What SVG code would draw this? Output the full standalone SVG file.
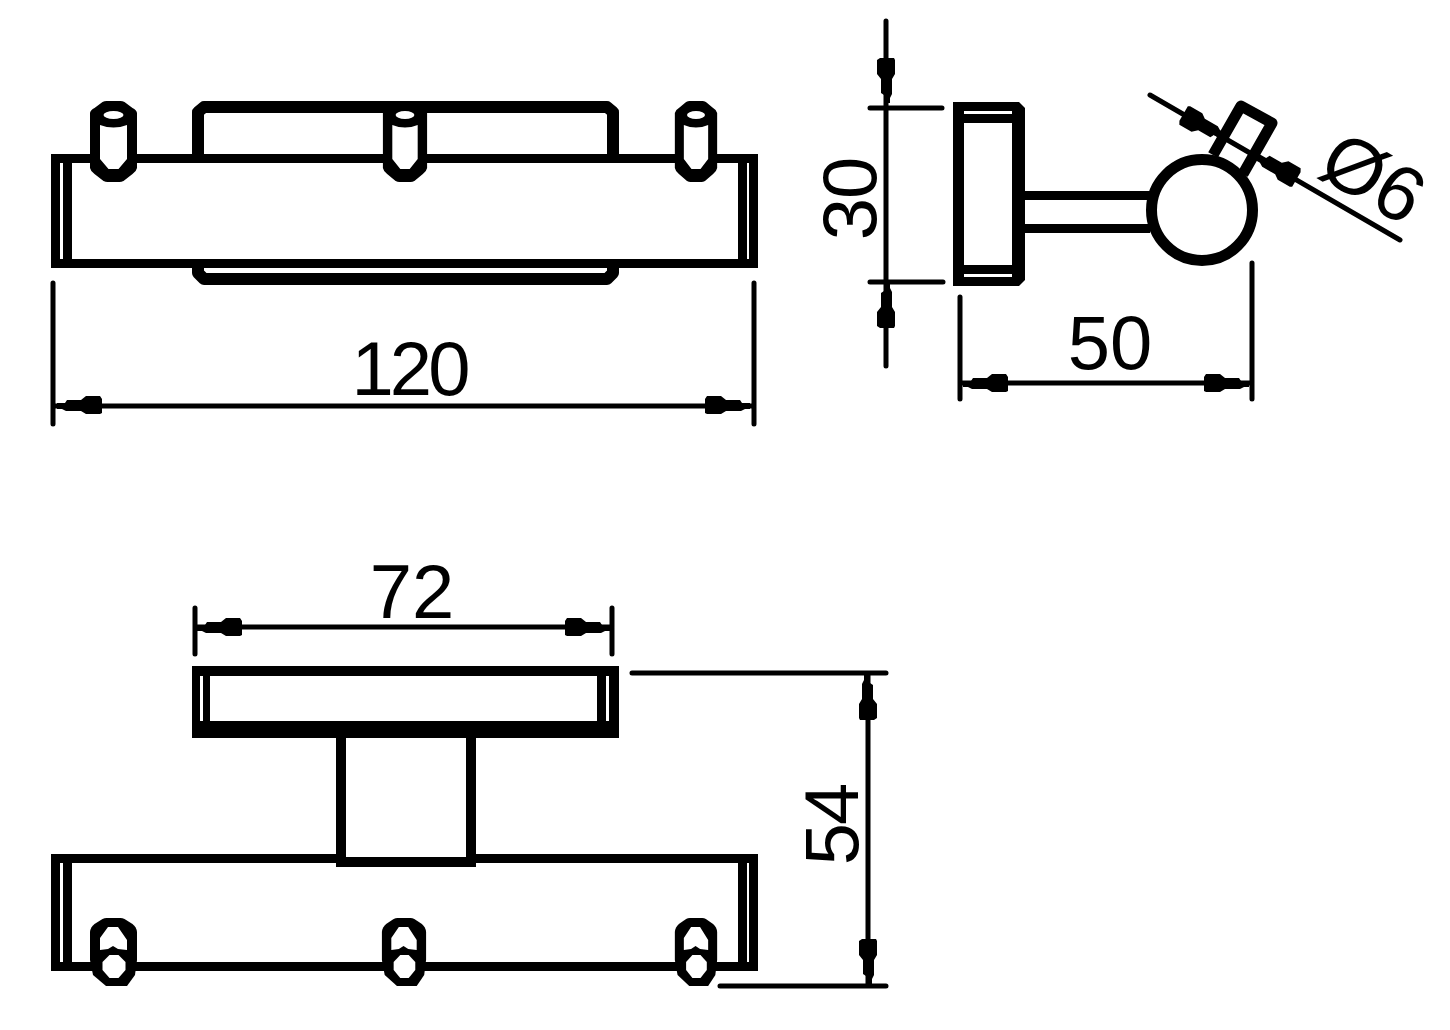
<svg xmlns="http://www.w3.org/2000/svg" width="1450" height="1030" viewBox="0 0 1450 1030">
<style>
.k{fill:#000;stroke:none}
.w{fill:#fff;stroke:none}
.o{fill:#fff;stroke:#000;stroke-width:11}
.n{fill:none;stroke:#000;stroke-width:9;stroke-linejoin:miter}
.p{fill:none;stroke:#000;stroke-width:12;stroke-linejoin:round}
.q{fill:none;stroke:#000;stroke-width:11;stroke-linejoin:round}
.d{fill:none;stroke:#000;stroke-width:5;stroke-linecap:round}
.t{font-family:"Liberation Sans",Arial,sans-serif;font-size:76px;fill:#000;text-anchor:middle}
</style>
<defs>
<path id="arrow" class="k" d="M0,-2 L8,-2 L10,-5 L24,-5 L29,-9 L43,-9 L45,-6 L45,8 L43,9 L29,9 L24,6 L9,6 L5,4 L0,4 Z"/>
<g id="pegTop">
<path class="k" d="M-23.500,12 Q-23,9 -19,7 L-11,1 Q-9,0 -7,0 H7 Q9,0 11,1 L19,7 Q23,9 23.500,12 V67 Q23,70 19,73 L10,80 Q8,81 6,81 H-6 Q-8,81 -10,80 L-19,73 Q-23,70 -23.500,67 Z"/>
<path class="w" d="M-13.500,24 Q0,29 13.500,24 V58 L5,68 L-5,68 L-13.500,58 Z"/>
<ellipse class="w" cx="0" cy="14" rx="10" ry="4"/>
</g>
<g id="pegBottom">
<path class="k" d="M-23.500,14 Q-23,9 -19,6 L-11,1 Q-9,0 -7,0 H7 Q9,0 11,1 L19,6 Q23,9 23.500,14 V42 L21.500,57 L13.500,68 L-7.500,68 L-20.500,57 L-23.500,42 Z"/>
<path class="w" d="M-13.500,20 L-5.500,9 L4.500,9 L13.500,22 V32 L4.500,31 L-0.500,28 L-5.500,31 L-13.500,32 Z"/>
<path class="w" d="M-4,37 L5,37 L12,44 L12,52 L5,60 L-4,60 L-11,52 L-11,44 Z"/>
</g>
</defs>
<rect class="w" width="1450" height="1030"/>
<g id="top-view">
<path class="p" d="M198,158 V112 L204,107 H607 L613,112 V158"/>
<path class="p" d="M198,268 V273 L204,279 H607 L613,273 V268"/>
<rect class="w" x="51" y="154" width="707" height="114"/>
<rect class="n" x="55.500" y="158.500" width="698" height="105"/>
<path class="k" d="M63,160 H72 V262 H63 Z M738,160 H747 V262 H738 Z"/>
<use href="#pegTop" transform="translate(113.500,101)"/>
<use href="#pegTop" transform="translate(405,101) scale(0.94,1)"/>
<use href="#pegTop" transform="translate(696,101) scale(0.9,1)"/>
</g>
<g id="side-view">
<path class="k" d="M1025,191 H1150 V200 H1025 Z M1025,224 H1150 V233 H1025 Z"/>
<path class="k" d="M953,102 H1019 L1025,108 V280 L1019,286 H953 Z"/>
<rect class="w" x="964" y="123" width="48" height="142"/>
<rect class="w" x="964" y="111" width="48" height="3"/>
<rect class="w" x="964" y="274" width="48" height="3"/>
<circle class="o" cx="1202" cy="210" r="50.500"/>
<path class="q" d="M1213,155 L1241,106 L1272,123 L1243,174"/>
</g>
<g id="front-view">
<rect class="n" x="55.500" y="858.500" width="698" height="108"/>
<rect class="o" style="stroke-width:10" x="341" y="733" width="130" height="129"/>
<path class="k" d="M192,666 H619 V738 H192 Z"/>
<rect class="w" x="210" y="676" width="387" height="45"/>
<rect class="w" x="200" y="676" width="3" height="45"/>
<rect class="w" x="606" y="676" width="3" height="45"/>
<path class="k" d="M63,862 H72 V964 H63 Z M738,862 H747 V964 H738 Z"/>
<use href="#pegBottom" transform="translate(113.500,918)"/>
<use href="#pegBottom" transform="translate(404,918) scale(0.94,1)"/>
<use href="#pegBottom" transform="translate(696,918) scale(0.9,1)"/>
</g>
<g id="connectors">
<path class="d" d="M53,283 V424 M754,283 V424 M53,406 H754"/>
<use href="#arrow" transform="translate(57,405)"/>
<use href="#arrow" transform="translate(750,405) scale(-1,1)"/>
<path class="d" d="M886,21 V366 M870,108 H942 M870,282 H943"/>
<use href="#arrow" transform="translate(886,103) rotate(-90)"/>
<use href="#arrow" transform="translate(886,283) rotate(90) scale(1,-1)"/>
<path class="d" d="M960,297 V399 M1252,263 V399 M960,383 H1252"/>
<use href="#arrow" transform="translate(963,383)"/>
<use href="#arrow" transform="translate(1249,383) scale(-1,1)"/>
<path class="d" d="M1150,95 L1400,240"/>
<use href="#arrow" transform="translate(1222,137) rotate(210) scale(1,1.2)"/>
<use href="#arrow" transform="translate(1258,156) rotate(30) scale(1,1.2)"/>
<path class="d" d="M195,608 V654 M612,608 V654 M195,627 H612"/>
<use href="#arrow" transform="translate(197,627)"/>
<use href="#arrow" transform="translate(610,627) scale(-1,1)"/>
<path class="d" d="M632,673 H886 M720,986 H886 M868,673 V986"/>
<use href="#arrow" transform="translate(868,675) rotate(90)"/>
<use href="#arrow" transform="translate(868,984) rotate(-90)"/>
</g>
<g id="labels">
<text class="t" x="409" y="395" letter-spacing="-4">120</text>
<text class="t" x="1110" y="369">50</text>
<text class="t" x="412" y="618">72</text>
<text class="t" transform="translate(876,199) rotate(-90)" letter-spacing="-1">30</text>
<text class="t" transform="translate(858,825) rotate(-90)" letter-spacing="-2">54</text>
<text class="t" transform="translate(1360,201) rotate(30)" style="font-size:78px">Ø6</text>
</g>
</svg>
